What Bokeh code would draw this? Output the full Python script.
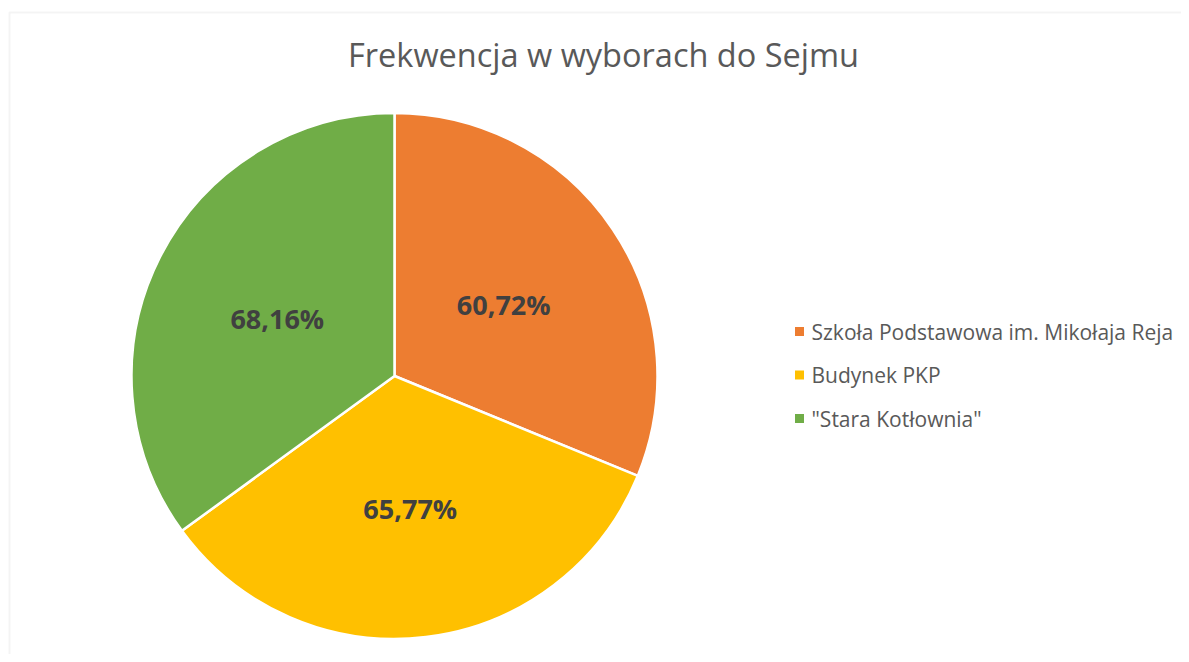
import math
from bokeh.plotting import figure
from bokeh.models import Range1d, BoxAnnotation, ColumnDataSource
from bokeh.embed import file_html
from bokeh.resources import INLINE
from bokeh.core.properties import value

# ---- data ----
chart_title = "Frekwencja w wyborach do Sejmu"
categories = ["Szkoła Podstawowa im. Mikołaja Reja", "Budynek PKP", "\"Stara Kotłownia\""]
turnout = [60.72, 65.77, 68.16]
colors = ["#ED7D31", "#FFC000", "#70AD47"]

# ---- layout constants ----
W, H = 1181, 654
CX, CY, R = 394, 278.5, 263
FONT = "Open Sans"

p = figure(width=W, height=H, x_range=Range1d(0, W), y_range=Range1d(0, H),
           output_backend="svg", toolbar_location=None, min_border=0,
           x_axis_location=None, y_axis_location=None, outline_line_color=None,
           background_fill_color="white", border_fill_color="white")
p.grid.grid_line_color = None

# chart-area border (light grey, runs off the right/bottom of the view)
p.add_layout(BoxAnnotation(left=9, right=W + 100, top=642, bottom=-100,
                           fill_alpha=0, line_color="#d9d9d9", line_width=2))

total = sum(turnout)
starts, ends, mids = [], [], []
acc = 0.0
for v in turnout:
    a0 = math.pi / 2 - 2 * math.pi * acc / total
    acc += v
    a1 = math.pi / 2 - 2 * math.pi * acc / total
    starts.append(a0)
    ends.append(a1)
    mids.append((a0 + a1) / 2)

src = ColumnDataSource(dict(
    cat=categories, val=turnout, color=colors, start=starts, end=ends,
    lx=[CX + 0.5 * R * math.cos(m) for m in mids],
    ly=[CY + 0.5 * R * math.sin(m) - 2 for m in mids],
    label=[f"{v:.2f}".replace(".", ",") + "%" for v in turnout],
))

p.wedge(x=CX, y=CY, radius=R, start_angle="start", end_angle="end",
        direction="clock", fill_color="color", line_color="white",
        line_width=2.5, source=src)

p.text(x="lx", y="ly", text="label", source=src, text_font=value(FONT),
       text_font_style="bold", text_font_size="27px", text_color="#404040",
       text_align="center", text_baseline="middle")

# title
p.text(x=[603], y=[600], text=[chart_title], text_font=value(FONT),
       text_font_size="32.5px", text_color="#595959",
       text_align="center", text_baseline="middle")

# legend
LX, LY0, LDY = 799, 323, 43.5
leg = ColumnDataSource(dict(
    cat=categories, color=colors,
    y=[LY0 - i * LDY for i in range(len(categories))],
))
p.scatter(x=LX, y="y", marker="square", size=9, fill_color="color",
          line_color=None, source=leg)
p.text(x=LX + 12, y="y", text="cat", source=leg, text_font=value(FONT),
       text_font_size="21px", text_color="#595959",
       text_align="left", text_baseline="middle")

open("out.html", "w").write(file_html(p, INLINE))
